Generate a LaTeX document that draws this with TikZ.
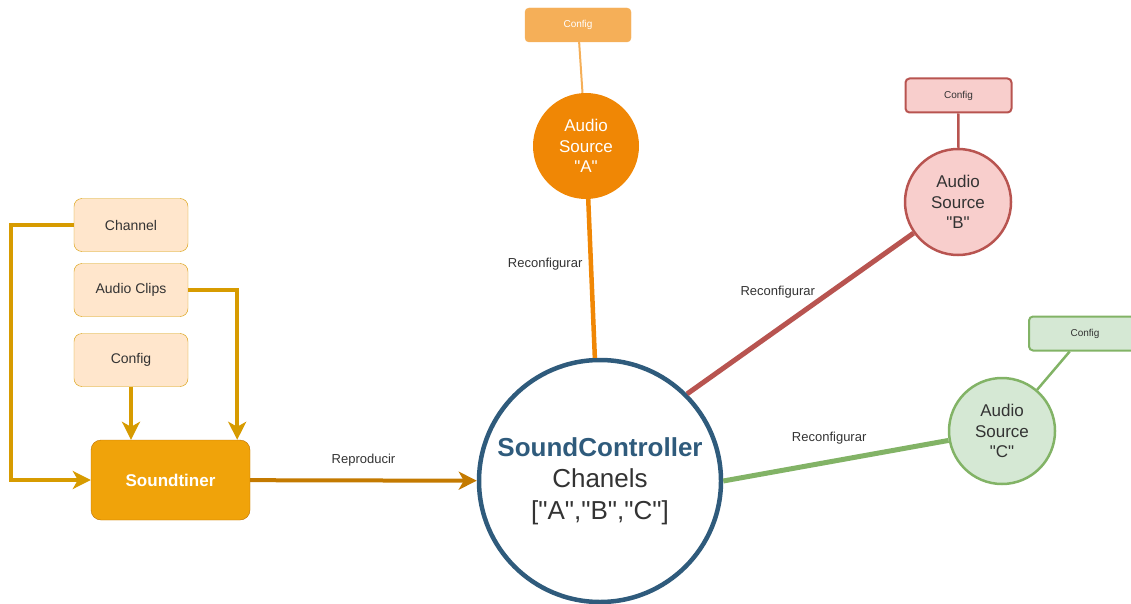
\documentclass[tikz,border=0pt]{standalone}
\usepackage{fontspec}
\setmainfont{Liberation Sans}[Ligatures=TeXOff]
\usepackage{tikz}
\usetikzlibrary{arrows.meta, positioning}

\definecolor{txt}{HTML}{333333}
\definecolor{itemfill}{HTML}{FFE6CC}
\definecolor{itemline}{HTML}{D79B00}
\definecolor{stfill}{HTML}{F0A30A}
\definecolor{stline}{HTML}{BD7000}
\definecolor{playline}{HTML}{C47A00}
\definecolor{hubblue}{HTML}{2F5B7C}
\definecolor{afill}{HTML}{F08705}
\definecolor{acfg}{HTML}{F5AF58}
\definecolor{bfill}{HTML}{F8CECC}
\definecolor{bline}{HTML}{B85450}
\definecolor{cfill}{HTML}{D5E8D4}
\definecolor{cline}{HTML}{82B366}

\tikzset{
    item/.style={draw=itemline, fill=itemfill, rounded corners=8pt, minimum width=114pt, minimum height=53pt, text=txt, font=\fontsize{14}{17}\selectfont},
    player/.style={draw=stline, fill=stfill, rounded corners=10pt, minimum width=159pt, minimum height=80pt, text=white, font=\fontsize{17}{20}\selectfont\bfseries},
    hub/.style={circle, draw=hubblue, line width=4.5pt, fill=white, minimum size=242pt, inner sep=0pt, align=center, text=txt, font=\fontsize{26}{31.5}\selectfont},
    srcnode/.style={circle, minimum size=106pt, inner sep=0pt, align=center, font=\fontsize{17}{20.5}\selectfont},
    cfgbox/.style={rounded corners=4pt, minimum width=106pt, minimum height=34pt, font=\fontsize{10}{12}\selectfont},
    feed/.style={draw=itemline, line width=4pt, -{Stealth[length=18pt, width=18pt, inset=5pt]}},
    lbl/.style={text=txt, font=\fontsize{13}{15}\selectfont}
}

\begin{document}
\begin{tikzpicture}[x=10pt, y=-10pt]
                \useasboundingbox (0, 0) rectangle (113.1, 60.4);

                \node[item] (chan) at (13.1, 22.5) {Channel};
                \node[item] (clips) at (13.1, 29.0) {Audio Clips};
                \node[item] (cfg) at (13.1, 36.0) {Config};
                \node[player] (st) at (17.05, 48.0) {Soundtiner};

                \node[hub] (sc) at (60.0, 48.1) {\textcolor{hubblue}{\bfseries SoundController}\\Chanels\\{[}"A","B","C"{]}};

                \node[srcnode, fill=afill, text=white] (srcA) at (58.6, 14.6) {Audio\\Source\\"A"};
                \node[cfgbox, draw=acfg, fill=acfg, text=white] (cfgA) at (57.8, 2.5) {Config};
                \node[srcnode, draw=bline, line width=2.5pt, fill=bfill, text=txt] (srcB) at (95.8, 20.2) {Audio\\Source\\"B"};
                \node[cfgbox, draw=bline, line width=2pt, fill=bfill, text=txt] (cfgB) at (95.85, 9.55) {Config};
                \node[srcnode, draw=cline, line width=2.5pt, fill=cfill, text=txt] (srcC) at (100.2, 43.1) {Audio\\Source\\"C"};
                \node[cfgbox, draw=cline, line width=2pt, fill=cfill, text=txt, minimum width=112pt] (cfgC) at (108.5, 33.35) {Config};

                \draw[feed] (chan.west) -- ++(-6.3, 0) |- (st.west);
                \draw[feed] (clips.east) -| ([xshift=-13pt]st.north east);
                \draw[feed] (cfg) -- (cfg |- st.north);
                \draw[draw=playline, line width=4pt, -{Stealth[length=18pt, width=18pt, inset=5pt]}] (st) -- node[lbl, above=9pt] {Reproducir} (sc);

                \draw[afill, line width=4.5pt] (srcA) -- node[lbl, left=3pt, pos=0.41] {Reconfigurar} (sc);
                \draw[bline, line width=5pt] (sc.45) -- node[lbl, above=26pt, pos=0.4] {Reconfigurar} (srcB.215);
                \draw[cline, line width=5pt] (sc.east) -- node[lbl, above=12pt, pos=0.47] {Reconfigurar} (srcC.190);

                \draw[acfg, line width=2pt] (cfgA) -- (srcA);
                \draw[bline, line width=2.5pt] (cfgB) -- (srcB);
                \draw[cline, line width=2.5pt] (cfgC) -- (srcC);
            \end{tikzpicture}
\end{document}
